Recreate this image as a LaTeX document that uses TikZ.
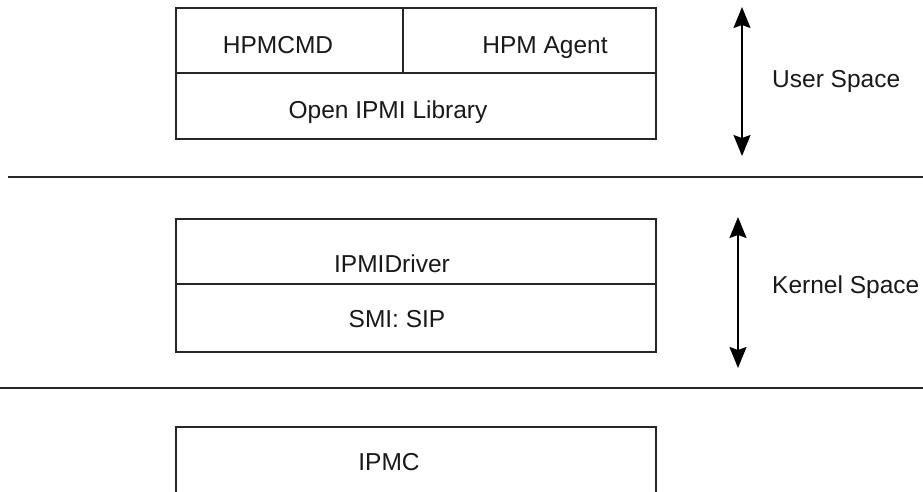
\documentclass[tikz,border=0pt]{standalone}
\usepackage{fontspec}
\setmainfont{Liberation Sans}
\usetikzlibrary{arrows.meta}
\begin{document}
\begin{tikzpicture}[x=1pt,y=-1pt,
  cell/.style={draw=black!85,line width=1.8pt,rectangle,inner sep=0pt,anchor=north west},
  lbl/.style={anchor=base,inner sep=0pt,font=\fontsize{24.5}{29}\selectfont,text=black!90},
  side/.style={anchor=base west,inner sep=0pt,font=\fontsize{24.5}{29}\selectfont,text=black!90},
  sep/.style={draw=black!85,line width=1.8pt},
  span/.style={draw=black,line width=1.7pt,{Stealth[length=21pt,width=17pt,inset=3pt]}-{Stealth[length=21pt,width=17pt,inset=3pt]}}]
\clip (0,0) rectangle (923,491);
\useasboundingbox (0,0) rectangle (923,491);
% top group
\node[cell,minimum width=227pt,minimum height=65pt] (hpmcmd) at (175,7) {};
\node[cell,minimum width=253pt,minimum height=65pt] (agent) at (402,7) {};
\node[cell,minimum width=480pt,minimum height=66pt] (lib) at (175,72) {};
\node[lbl] (thpmcmd) at (278,53) {HPMCMD};
\node[lbl] (tagent) at (545,53) {HPM Agent};
\node[lbl] (tlib) at (388,118) {Open IPMI Library};
% middle group
\node[cell,minimum width=480pt,minimum height=65pt] (drv) at (175,218) {};
\node[cell,minimum width=480pt,minimum height=68pt] (smi) at (175,283) {};
\node[lbl] (tdrv) at (392,272) {IPMIDriver};
\node[lbl] (tsmi) at (397,327) {SMI: SIP};
% bottom
\node[cell,minimum width=480pt,minimum height=90pt] (ipmc) at (175,426) {};
\node[lbl] (tipmc) at (389,470) {IPMC};
% separators
\coordinate (s1a) at (8,177); \coordinate (s1b) at (930,177);
\coordinate (s2a) at (-5,388); \coordinate (s2b) at (930,388);
\draw[sep] (s1a) -- (s1b);
\draw[sep] (s2a) -- (s2b);
% arrows
\coordinate (u1) at (742,7); \coordinate (u2) at (742,156);
\coordinate (k1) at (738,217); \coordinate (k2) at (738,368);
\draw[span] (u1) -- (u2);
\draw[span] (k1) -- (k2);
\node[side] (user) at (772,87) {User Space};
\node[side] (kernel) at (772,293) {Kernel Space};
\end{tikzpicture}
\end{document}
